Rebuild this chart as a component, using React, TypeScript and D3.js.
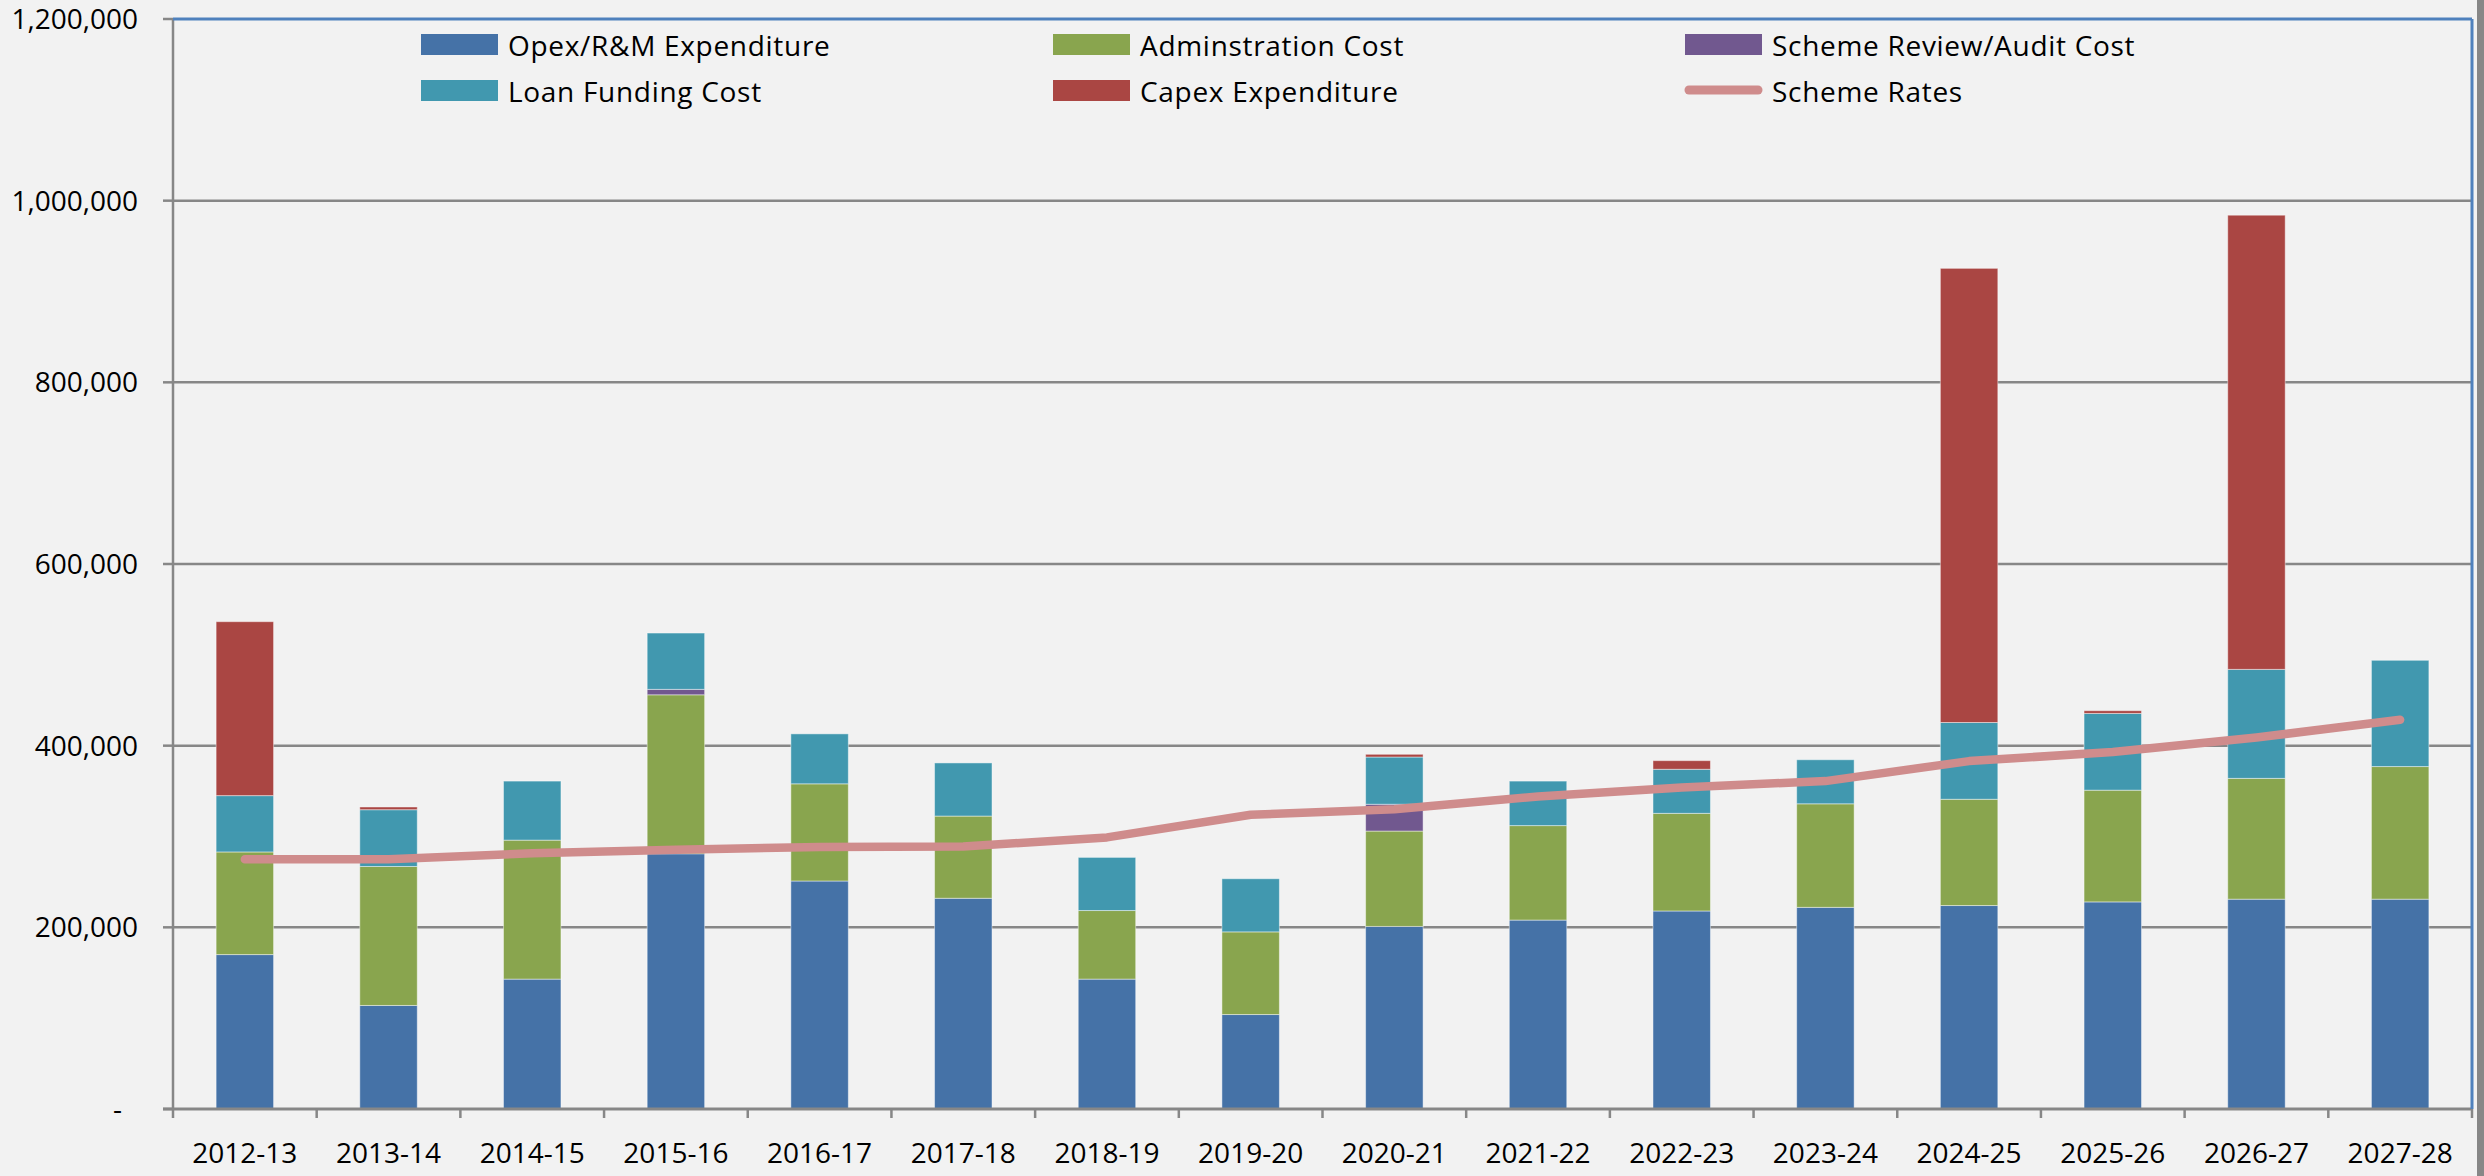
import React from "react";
import * as d3 from "d3";

const categories = ["2012-13","2013-14","2014-15","2015-16","2016-17","2017-18","2018-19","2019-20","2020-21","2021-22","2022-23","2023-24","2024-25","2025-26","2026-27","2027-28"];
const opex = [170000,114000,143000,281000,251000,232000,143000,104000,201000,208000,218000,222000,224000,228000,231000,231000];
const admin = [113000,153000,153000,175000,107000,90500,75500,91000,105000,104000,107500,114000,117000,123000,133000,146000];
const review = [0,0,0,6000,0,0,0,0,29500,0,0,0,0,0,0,0];
const loan = [62000,62500,65000,62000,55000,58500,58500,58500,52000,49000,48500,48500,84500,84500,120000,117000];
const capex = [191500,3000,0,0,0,0,0,0,3000,0,9500,0,500000,3000,500000,0];
const rates = [275000,275000,281500,285500,288500,289000,299000,324000,330000,344000,354000,361000,383000,393000,409000,428500];
const yTicks = [0,200000,400000,600000,800000,1000000,1200000];

const seriesNames = ["Opex/R&M Expenditure","Adminstration Cost","Scheme Review/Audit Cost","Loan Funding Cost","Capex Expenditure"];
const seriesValues = [opex, admin, review, loan, capex];
const seriesColors = ["#4572A7","#89A54E","#71588F","#4198AF","#AA4643"];
const lineName = "Scheme Rates";
const lineColor = "#CF8C8C";

const W = 2484, H = 1176;
const left = 173, right = 2472, top = 19, bottom = 1109;
const FONT = "'Open Sans', 'Liberation Sans', sans-serif";

export default function App() {
  const x = d3.scaleBand<string>().domain(categories).range([left, right]).paddingInner(0.6).paddingOuter(0.3);
  const band = d3.scaleBand<string>().domain(categories).range([left, right]);
  const y = d3.scaleLinear().domain([0, 1200000]).range([bottom, top]);

  const table = categories.map((c, i) => {
    const row: any = { cat: c };
    seriesNames.forEach((n, k) => (row[n] = seriesValues[k][i]));
    return row;
  });
  const stacked = d3.stack().keys(seriesNames)(table);
  const line = d3.line<number>()
    .x((_, i) => (x(categories[i]) as number) + x.bandwidth() / 2)
    .y((v) => y(v));
  const fmt = (v: number) => (v === 0 ? "-" : d3.format(",")(v));

  const legendItems = [
    { name: seriesNames[0], color: seriesColors[0], col: 0, row: 0 },
    { name: seriesNames[1], color: seriesColors[1], col: 1, row: 0 },
    { name: seriesNames[2], color: seriesColors[2], col: 2, row: 0 },
    { name: seriesNames[3], color: seriesColors[3], col: 0, row: 1 },
    { name: seriesNames[4], color: seriesColors[4], col: 1, row: 1 },
    { name: lineName, color: lineColor, col: 2, row: 1, isLine: true },
  ];

  return (
    <svg width={W} height={H} style={{ position: "absolute", left: 0, top: 0, background: "#F2F2F2" }} fontFamily={FONT}>
      <rect x={0} y={0} width={W} height={H} fill="#F2F2F2" />
      {yTicks.slice(1, -1).map((t) => (
        <line key={t} x1={left} x2={right} y1={y(t)} y2={y(t)} stroke="#878787" strokeWidth={2.5} />
      ))}
      {yTicks.map((t) => (
        <g key={"yt" + t}>
          <line x1={left - 10} x2={left} y1={y(t)} y2={y(t)} stroke="#878787" strokeWidth={2.5} />
          <text x={t === 0 ? 122 : 138} y={y(t)} dy="0.36em" textAnchor="end" fontSize={28} fill="#000">{fmt(t)}</text>
        </g>
      ))}
      {stacked.map((s, k) => (
        <g key={s.key} fill={seriesColors[k]}>
          {s.map((d, i) => d[1] - d[0] > 0 ? (
            <rect key={i} x={x(categories[i])} width={x.bandwidth()} y={y(d[1])} height={y(d[0]) - y(d[1])}
              stroke="#ffffff" strokeOpacity={0.45} strokeWidth={1} />
          ) : null)}
        </g>
      ))}
      <line x1={left} x2={left} y1={top} y2={bottom + 9} stroke="#878787" strokeWidth={2.5} />
      <line x1={left - 10} x2={right} y1={bottom} y2={bottom} stroke="#878787" strokeWidth={3} />
      {categories.map((c) => (
        <line key={"xt" + c} x1={(band(c) as number) + band.bandwidth()} x2={(band(c) as number) + band.bandwidth()} y1={bottom} y2={bottom + 9} stroke="#878787" strokeWidth={2.5} />
      ))}
      {categories.map((c) => (
        <text key={"xl" + c} x={(x(c) as number) + x.bandwidth() / 2} y={1163} textAnchor="middle" fontSize={28} fill="#000">{c}</text>
      ))}
      <line x1={left} x2={right} y1={top} y2={top} stroke="#4F81BD" strokeWidth={3} />
      <line x1={right} x2={right} y1={top} y2={bottom} stroke="#4F81BD" strokeWidth={3} />
      <rect x={2477} y={0} width={7} height={H} fill="#878787" />
      <path d={line(rates) || ""} fill="none" stroke={lineColor} strokeWidth={8.5} strokeLinejoin="round" strokeLinecap="round" />
      {legendItems.map((it) => {
        const sx = 421 + it.col * 632;
        const sy = it.row === 0 ? 34 : 80;
        return (
          <g key={"lg" + it.name}>
            {it.isLine ? (
              <line x1={sx + 4} x2={sx + 73} y1={sy + 10} y2={sy + 10} stroke={lineColor} strokeWidth={9} strokeLinecap="round" />
            ) : (
              <rect x={sx} y={sy} width={77} height={21} fill={it.color} />
            )}
            <text x={sx + 87} y={it.row === 0 ? 56 : 102} fontSize={28} letterSpacing={0.7} fill="#000">{it.name}</text>
          </g>
        );
      })}
    </svg>
  );
}
